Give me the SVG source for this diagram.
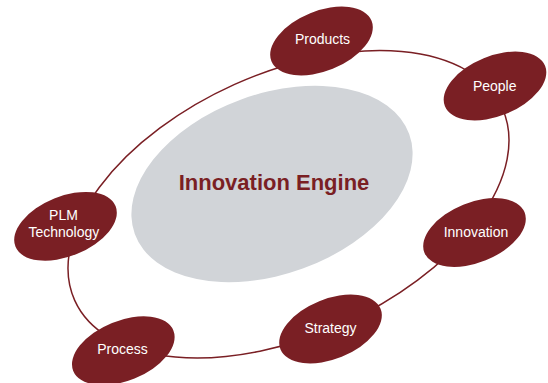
<svg xmlns="http://www.w3.org/2000/svg" width="548" height="383" viewBox="0 0 548 383">
<style>
.node{fill:#7a1f24}
.lbl{fill:#ffffff;font-family:"Liberation Sans",Arial,sans-serif;font-size:14px;text-anchor:middle}
.ring{fill:none;stroke:#7a1f24;stroke-width:1.5}
</style>
<rect width="548" height="383" fill="#ffffff"/>
<g id="engine">
<ellipse cx="272" cy="184" rx="146" ry="90" transform="rotate(-20 272 184)" fill="#d1d4d8"/>
<text x="274" y="190" font-family="'Liberation Sans',Arial,sans-serif" font-size="22" font-weight="bold" fill="#7a1f24" text-anchor="middle">Innovation Engine</text>
</g>
<g id="connectors">
<ellipse class="ring" cx="288.5" cy="204.3" rx="234.4" ry="131.5" transform="rotate(-24.2 288.5 204.3)"/>
</g>
<g id="products">
<ellipse class="node" cx="321.5" cy="41" rx="54" ry="30" transform="rotate(-22 321.5 41)"/>
<text class="lbl" x="322.5" y="44.3">Products</text>
</g>
<g id="people">
<ellipse class="node" cx="495" cy="86" rx="54" ry="30" transform="rotate(-22 495 86)"/>
<text class="lbl" x="494.7" y="90.7">People</text>
</g>
<g id="innovation">
<ellipse class="node" cx="474.5" cy="232.5" rx="54" ry="30" transform="rotate(-22 474.5 232.5)"/>
<text class="lbl" x="476" y="236.7">Innovation</text>
</g>
<g id="strategy">
<ellipse class="node" cx="330.5" cy="329" rx="54" ry="30" transform="rotate(-22 330.5 329)"/>
<text class="lbl" x="330.5" y="333.3">Strategy</text>
</g>
<g id="process">
<ellipse class="node" cx="123.3" cy="350.7" rx="54" ry="30" transform="rotate(-22 123.3 350.7)"/>
<text class="lbl" x="122.5" y="354">Process</text>
</g>
<g id="plm">
<ellipse class="node" cx="65.5" cy="226.3" rx="54" ry="30" transform="rotate(-22 65.5 226.3)"/>
<text class="lbl" x="63.5" y="220">PLM</text>
<text class="lbl" x="63.8" y="237.3">Technology</text>
</g>
</svg>
